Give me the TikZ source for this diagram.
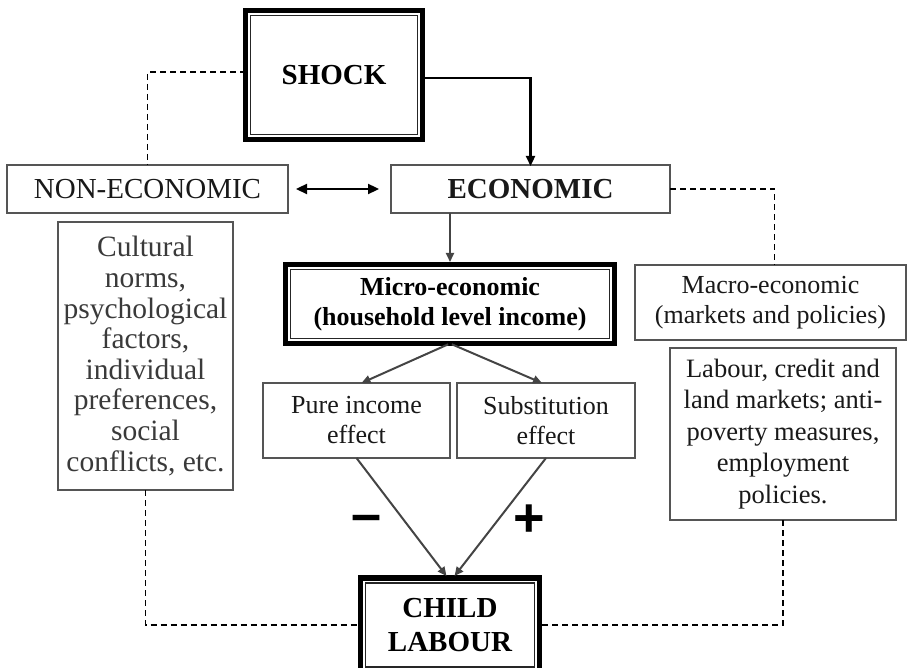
\documentclass[tikz,border=0pt]{standalone}
\usepackage{fontspec}
\setmainfont{Liberation Serif}
\newfontfamily\signfont{Liberation Sans}
\usetikzlibrary{arrows.meta}
\definecolor{boxgray}{HTML}{555555}
\definecolor{arrgray}{HTML}{444444}
\definecolor{txtgray}{HTML}{3A3A3A}
\begin{document}
\begin{tikzpicture}[x=1pt,y=-1pt,
  box/.style={draw=boxgray, line width=1.9pt, rectangle, inner sep=0pt, outer sep=0pt, align=center, fill=white, text=black!90},
  dbox/.style={draw=black, line width=5.5pt, rectangle, inner sep=0pt, outer sep=0pt, align=center, fill=white},
  innerline/.style={draw=black!85, line width=1.5pt},
  fbig/.style={font=\fontsize{29}{34}\selectfont},
  fbigb/.style={font=\fontsize{29}{34}\selectfont\bfseries},
  fmid/.style={font=\fontsize{26}{30}\selectfont},
  fmidb/.style={font=\fontsize{26}{30}\selectfont\bfseries},
  arr/.style={draw=arrgray, line width=2pt, -{Triangle[length=9pt,width=8pt]}},
  blackarr/.style={draw=black, line width=2.3pt, -{Triangle[length=10pt,width=9pt]}},
  dbarr/.style={draw=black, line width=2.3pt, {Triangle[length=11pt,width=10pt]}-{Triangle[length=11pt,width=10pt]}},
  dashline/.style={draw=black, line width=1.9pt, dash pattern=on 6pt off 4pt},
  sign/.style={font=\fontsize{54}{54}\selectfont\signfont\bfseries, inner sep=0pt}
]
\useasboundingbox (0,0) rectangle (908,668);
\clip (0,0) rectangle (908,668);

% nodes
\node[dbox, fbigb, minimum width=177pt, minimum height=129pt] (shock) at (334,75) {SHOCK};
\draw[innerline] ([shift={(4.8,4.8)}]shock.north west) rectangle ([shift={(-4.8,-4.8)}]shock.south east);

\node[box, fbig, minimum width=281pt, minimum height=48pt] (nonecon) at (147.5,189) {NON-ECONOMIC};
\node[box, fbigb, minimum width=279pt, minimum height=48pt] (econ) at (530.5,189) {ECONOMIC};

\node[box, font=\fontsize{29.5}{30.6}\selectfont, text=txtgray, minimum width=175pt, minimum height=268pt] (cultural) at (145.5,356)
  {Cultural\\norms,\\psychological\\factors,\\individual\\preferences,\\social\\conflicts, etc.};

\node[dbox, fmidb, minimum width=329pt, minimum height=79pt] (micro) at (450,304)
  {Micro-economic\\(household level income)};
\draw[innerline] ([shift={(4.8,4.8)}]micro.north west) rectangle ([shift={(-4.8,-4.8)}]micro.south east);

\node[box, fmid, minimum width=271pt, minimum height=75pt] (macro) at (770.5,302.5)
  {Macro-economic\\(markets and policies)};
\node[box, font=\fontsize{26.5}{31.5}\selectfont, minimum width=226pt, minimum height=172pt] (labour) at (783,434)
  {Labour, credit and\\land markets; anti-\\poverty measures,\\employment\\policies.};

\node[box, fmid, minimum width=187pt, minimum height=75pt] (pure) at (356.5,420.5) {Pure income\\effect};
\node[box, fmid, minimum width=178pt, minimum height=75pt] (subst) at (546,420.5) {Substitution\\effect};

\node[dbox, fbigb, minimum width=179pt, minimum height=94pt] (child) at (450,625) {CHILD\\LABOUR};
\draw[innerline] ([shift={(4.8,4.8)}]child.north west) rectangle ([shift={(-4.8,-4.8)}]child.south east);

\node[sign] (minus) at (367,524) {–};
\node[sign] (plus) at (529,521) {+};

% connectors
\draw[blackarr] ([yshift=-3]shock.east) -| ([yshift=-1]econ.north);
\draw[dashline] ([yshift=3]shock.west) -| (nonecon.north);
\draw[dbarr] ([xshift=8]nonecon.east) -- ([xshift=-12]econ.west);
\draw[dashline] (econ.east) -| ([xshift=4]macro.north);
\draw[arr, shorten >=2.5pt] (micro.north |- econ.south) -- (micro.north);
\draw[arr, shorten <=2pt] (micro.south) -- ([xshift=5]pure.north);
\draw[arr, shorten <=2pt] (micro.south) -- ([xshift=-4]subst.north);
\draw[arr, shorten >=2.5pt] (pure.south) -- ([xshift=-2]child.north);
\draw[arr, shorten >=2.5pt] (subst.south) -- ([xshift=3]child.north);
\draw[dashline] (cultural.south) |- (child.west);
\draw[dashline] (labour.south) |- (child.east);
\end{tikzpicture}
\end{document}
